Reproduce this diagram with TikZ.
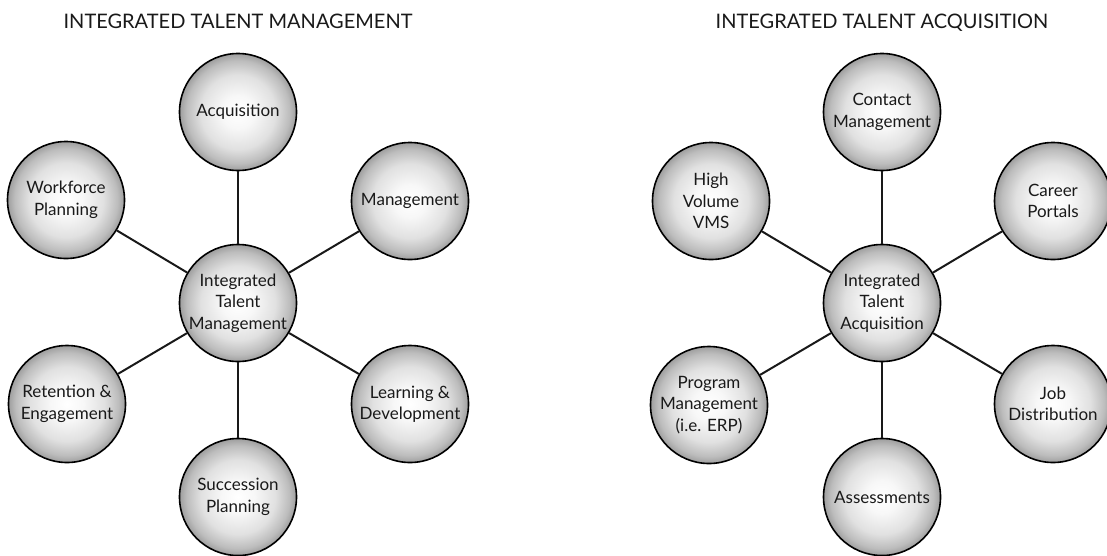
\documentclass[tikz,border=0pt]{standalone}
\usepackage{fontspec}
\setmainfont{Lato}
\usepackage{tikz}
\pgfdeclareradialshading{bubbleshade}{\pgfpoint{0bp}{0bp}}{%
    color(0bp)=(white); color(7bp)=(black!3); color(16bp)=(black!12);
    color(22bp)=(black!26); color(25bp)=(black!38); color(50bp)=(black!38)}
\tikzstyle{bubble} = [circle, draw=black, line width=1.6pt,
    minimum size=117pt, inner sep=0pt, align=center,
    shading=bubbleshade, text=black!90,
    font=\fontsize{17}{21.5}\selectfont]
\tikzstyle{heading} = [anchor=base, text=black!90,
    font=\fontsize{20}{24}\selectfont]
\tikzset{spoke/.style={line width=2pt, draw=black!90}}

\begin{document}
\begin{tikzpicture}[x=1pt,y=-1pt]
\useasboundingbox (0,0) rectangle (1107,555);
\begin{scope}[shift={(238,303)}]
    %title
    \node[heading] (tm) at (0,-275) {INTEGRATED TALENT MANAGEMENT};
    %circles
    \node[bubble] (m0) at (0,0) {Integrated\\Talent\\Management};
    \node[bubble] (m1) at (0,-191) {Acquisition};
    \node[bubble] (m2) at (172,-102) {Management};
    \node[bubble] (m3) at (172,101) {Learning \&\\Development};
    \node[bubble] (m4) at (0,194) {Succession\\Planning};
    \node[bubble] (m5) at (-171,101) {Retention \&\\Engagement};
    \node[bubble] (m6) at (-172,-103) {Workforce\\Planning};
    %lines
    \draw[spoke] (m0) -- (m1);
    \draw[spoke] (m0) -- (m2);
    \draw[spoke] (m0) -- (m3);
    \draw[spoke] (m0) -- (m4);
    \draw[spoke] (m0) -- (m5);
    \draw[spoke] (m0) -- (m6);
\end{scope}
\begin{scope}[shift={(882,303)}]
    %title
    \node[heading] (ta) at (0,-275) {INTEGRATED TALENT ACQUISITION};
    %circles
    \node[bubble] (a0) at (0,0) {Integrated\\Talent\\Acquisition};
    \node[bubble] (a1) at (0,-191) {Contact\\Management};
    \node[bubble] (a2) at (171,-102) {Career\\Portals};
    \node[bubble] (a3) at (171,101) {Job\\Distribution};
    \node[bubble] (a4) at (0,194) {Assessments};
    \node[bubble] (a5) at (-173,102) {Program\\Management\\(i.e. ERP)};
    \node[bubble] (a6) at (-171,-102) {High\\Volume\\VMS};
    %lines
    \draw[spoke] (a0) -- (a1);
    \draw[spoke] (a0) -- (a2);
    \draw[spoke] (a0) -- (a3);
    \draw[spoke] (a0) -- (a4);
    \draw[spoke] (a0) -- (a5);
    \draw[spoke] (a0) -- (a6);
\end{scope}
\end{tikzpicture}
\end{document}
